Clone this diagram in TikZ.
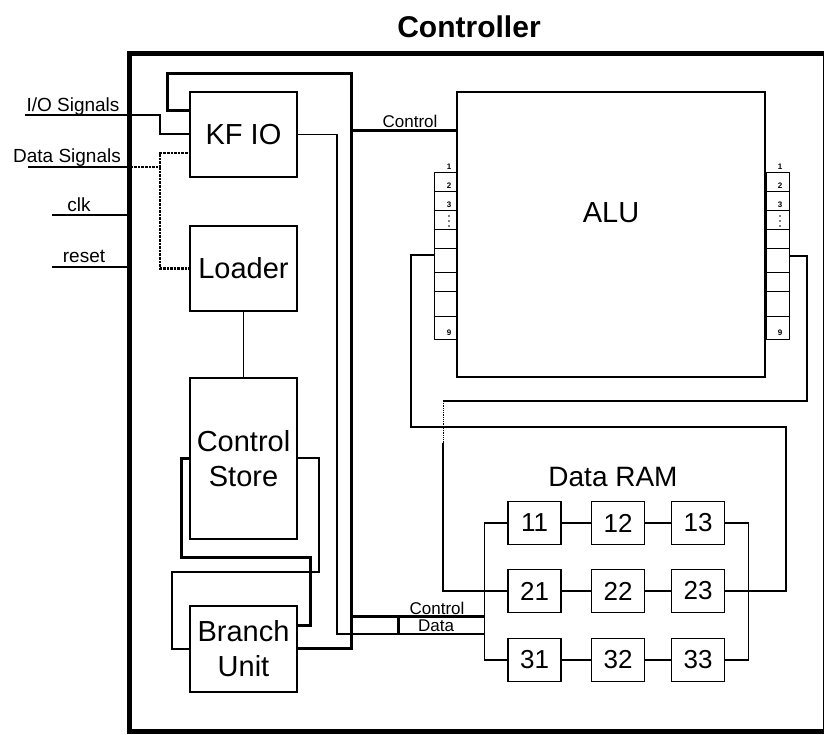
\documentclass[tikz,border=0pt]{standalone}
\usepackage{fontspec}
\setmainfont{Liberation Sans}
\usetikzlibrary{positioning}
\tikzset{
  blk/.style   ={draw,line width=1.2pt,minimum width=107,inner sep=0pt,align=center,font=\fontsize{29}{35}\selectfont},
  ram/.style   ={draw,line width=1.2pt,minimum width=53,minimum height=43,inner sep=0pt,font=\fontsize{26}{30}\selectfont},
  reg/.style   ={draw,line width=1pt,minimum width=23,inner sep=0pt},
  regnum/.style={inner sep=0pt,font=\fontsize{8}{8}\selectfont\bfseries},
  sig/.style   ={inner sep=0pt,anchor=base,font=\fontsize{19}{22}\selectfont},
  bussig/.style={inner sep=0pt,anchor=base,font=\fontsize{17}{20}\selectfont},
  wire/.style  ={line width=1.1pt},
  bus/.style   ={line width=3pt},
  dotbus/.style={line width=2.6pt,densely dotted},
}

\begin{document}
\begin{tikzpicture}[x=1pt,y=-1pt]
  \useasboundingbox (0,0) rectangle (824,734);
  % frame and title
  \node[draw,line width=5pt,minimum width=695.5,minimum height=678,inner sep=0pt] (frame) at (477.25,392.5) {};
  \node[anchor=base,inner sep=0pt,font=\fontsize{30}{36}\selectfont\bfseries] (title) at (469,37) {Controller};

  % left column
  \node[blk,minimum height=85]  (kfio)   at (243.5,134.5) {KF IO};
  \node[blk,minimum height=85]  (loader) at (243.5,268.5) {Loader};
  \node[blk,minimum height=161] (store)  at (243.5,458.5) {Control\\Store};
  \node[blk,minimum height=86]  (branch) at (243.5,649)   {Branch\\Unit};

  % ALU with its two register stacks
  \node[blk,minimum width=308,minimum height=285] (alu) at (611,234.5) {};
  \node[anchor=base,inner sep=0pt,font=\fontsize{29}{35}\selectfont] (alutxt) at (611,222) {ALU};
  \foreach \ya/\yb [count=\i] in {172/191,191/210,210/229,229/248,248/272,272/291,291/316,316/339} {
    \node[reg,minimum height=\yb-\ya] (al\i) at (445.5,{(\ya+\yb)/2}) {};
    \node[reg,minimum height=\yb-\ya] (ar\i) at (777.5,{(\ya+\yb)/2}) {};
  }
  \foreach \n/\y in {1/167,2/186,3/205,9/333} {
    \node[regnum] (aln\n) at (449,\y) {\n};
    \node[regnum] (arn\n) at (780,\y) {\n};
  }
  % the dots between 3 and 9
  \foreach \x in {449,780}
    \foreach \y in {216,221,226}
      \fill (\x,\y) circle (0.8);

  % data RAM
  \node[anchor=base,inner sep=0pt,font=\fontsize{28}{32}\selectfont] (ramtxt) at (613,486) {Data RAM};
  \foreach \r/\y in {1/523,2/591,3/660}
    \foreach \c/\x in {1/534.5,2/618,3/698}
      \node[ram] (m\r\c) at (\x,\y) {\r\c};
  \foreach \r in {1,2,3}
    \draw[wire] (m\r1) -- (m\r2) -- (m\r3);
  \draw[wire] (m11.west) -- ++(-23,0) |- (m31.west);
  \draw[wire] (m13.east) -- ++(23,0) |- (m33.east);

  % external signals
  \coordinate (ioin)   at (25,115);
  \coordinate (datain) at (28,167);
  \coordinate (clkin)  at (52,215);
  \coordinate (rstin)  at (52,267);
  \node[sig] (iolbl)   at (73,111) {I/O Signals};
  \node[sig] (datalbl) at (67,162) {Data Signals};
  \node[sig] (clklbl)  at (79,211) {clk};
  \node[sig] (rstlbl)  at (84,262) {reset};
  \draw[wire] (ioin) -| (160,134) -- (kfio.west |- 0,134);
  \draw[wire] (datain) -- (datain -| frame.west);
  \draw[dotbus] (datain -| frame.west) -| (160,153) -- (kfio.west |- 0,153);
  \draw[dotbus] (160,167) |- (loader.west);
  \draw[wire] (clkin) -- (clkin -| frame.west);
  \draw[wire] (rstin) -- (rstin -| frame.west);

  % control bus
  \draw[bus] (kfio.west |- 0,110) -| (167,73) -| (351,648) -- (branch.east |- 0,648);
  \draw[bus] (351,130) -- (alu.west |- 0,130);
  \node[bussig] (ctrlup) at (410,127) {Control};
  \draw[bus] (351,616) -- (485,616);
  \draw[wire] (kfio.east) -| (337,634) -- (485,634);
  \draw[bus] (398,616) -- (398,634);
  \node[bussig] (ctrldn) at (437,614) {Control};
  \node[bussig] (datadn) at (436,631) {Data};

  % control store and branch unit
  \draw[wire] (loader) -- (store);
  \draw[bus] (store.west |- 0,458) -| (181,557) -| (310,625) -- (branch.east |- 0,625);
  \draw[wire] (store.east |- 0,458) -| (319,572) -| (172,649) -- (branch.west);

  % ALU registers to data RAM
  \draw[wire] (al5.west |- 0,255) -| (411,427) -| (786,591) -- (m23.east);
  \draw[wire] (ar5.east |- 0,256) -| (807,401) -- (443,401);
  \draw[wire,line width=0.8pt,densely dotted] (443,401) -- (443,443);
  \draw[wire] (443,443) |- (m21.west);
\end{tikzpicture}
\end{document}
